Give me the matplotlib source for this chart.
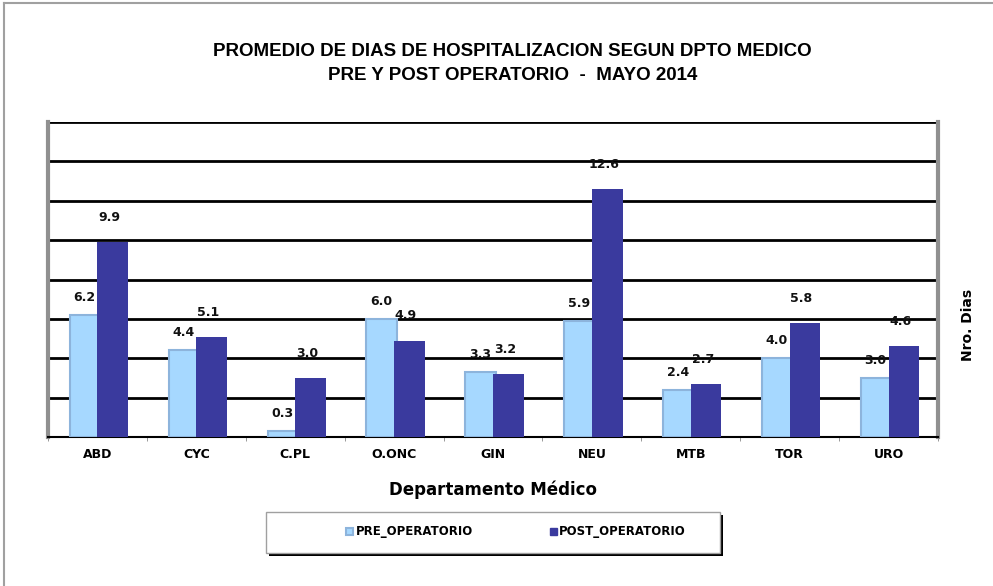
import matplotlib
matplotlib.use("Agg")
import matplotlib.pyplot as plt
import numpy as np
from matplotlib.patches import Rectangle, Patch
from matplotlib.lines import Line2D

categories = ["ABD", "CYC", "C.PL", "O.ONC", "GIN", "NEU", "MTB", "TOR", "URO"]
pre_values = [6.2, 4.4, 0.3, 6.0, 3.3, 5.9, 2.4, 4.0, 3.0]
post_values = [9.9, 5.1, 3.0, 4.9, 3.2, 12.6, 2.7, 5.8, 4.6]
series_names = ["PRE_OPERATORIO", "POST_OPERATORIO"]

PRE_COLOR = "#A6D8FF"
PRE_EDGE = "#8DB4DC"
POST_COLOR = "#3A3A9E"

W, H = 993, 586
fig = plt.figure(figsize=(W / 100, H / 100), dpi=100)
ax = fig.add_axes([48 / W, 1 - 437 / H, (938 - 48) / W, (437 - 122) / H])

x = np.arange(len(categories))
bw = 0.31
ax.bar(x - 0.125, pre_values, width=bw, color=PRE_COLOR, edgecolor=PRE_EDGE,
       linewidth=1.5, zorder=3)
ax.bar(x + 0.155, post_values, width=bw, color=POST_COLOR, edgecolor=POST_COLOR,
       linewidth=0, zorder=4)

lab_font = dict(fontsize=9, fontweight="bold", family="DejaVu Sans", color="#111111")
for xi, v in zip(x, pre_values):
    ax.annotate(f"{v:.1f}", (xi - 0.13, v), xytext=(0, 8), textcoords="offset points",
                ha="center", va="bottom", zorder=6, **lab_font)
for xi, v in zip(x, post_values):
    ax.annotate(f"{v:.1f}", (xi + 0.12, v), xytext=(0, 13), textcoords="offset points",
                ha="center", va="bottom", zorder=6, **lab_font)

ax.set_xlim(-0.5, len(categories) - 0.5)
ax.set_ylim(0, 16)
ax.set_yticks(np.arange(0, 17, 2))
ax.yaxis.grid(True, color="black", linewidth=2, zorder=1)
ax.set_axisbelow(True)
ax.tick_params(axis="y", left=False, labelleft=False)
ax.set_xticks(x)
ax.set_xticklabels(categories, fontsize=9, fontweight="bold", family="DejaVu Sans")
ax.tick_params(axis="x", length=0, pad=8)
ax.set_xticks(np.arange(-0.5, len(categories), 1), minor=True)
ax.tick_params(axis="x", which="minor", length=3, color="#888888")
ax.spines["top"].set_visible(False)
ax.spines["left"].set_color("#909090")
ax.spines["left"].set_linewidth(3)
ax.spines["right"].set_color("#909090")
ax.spines["right"].set_linewidth(3)
ax.spines["bottom"].set_color("black")
ax.spines["bottom"].set_linewidth(1.5)

ax.set_xlabel("Departamento Médico", fontsize=12, fontweight="bold",
              family="DejaVu Sans", labelpad=14)
fig.text(968 / W, 1 - 325 / H, "Nro. Dias", rotation=90, ha="center", va="center",
         fontsize=10, fontweight="bold", family="DejaVu Sans")

fig.text(0.516, 1 - 52 / H, "PROMEDIO DE DIAS DE HOSPITALIZACION SEGUN DPTO MEDICO",
         ha="center", va="center", fontsize=13.5, fontweight="bold",
         family=["Liberation Sans Narrow", "Liberation Sans"])
fig.text(0.516, 1 - 75 / H, "PRE Y POST OPERATORIO  -  MAYO 2014",
         ha="center", va="center", fontsize=13.5, fontweight="bold",
         family=["Liberation Sans Narrow", "Liberation Sans"])

# legend box with shadow
fig.patches.append(Rectangle((269 / W, 1 - 556 / H), 454 / W, 41 / H,
                             transform=fig.transFigure, facecolor="black",
                             edgecolor="none", zorder=0))
fig.patches.append(Rectangle((266 / W, 1 - 553 / H), 454 / W, 41 / H,
                             transform=fig.transFigure, facecolor="white",
                             edgecolor="#A0A0A0", linewidth=1, zorder=1))
handles = [Patch(facecolor=PRE_COLOR, edgecolor=PRE_EDGE, linewidth=1.5),
           Patch(facecolor=POST_COLOR, edgecolor=POST_COLOR)]
leg = fig.legend(handles, series_names, loc="center", bbox_to_anchor=(516 / W, 1 - 532 / H),
                 ncol=2, frameon=False, handlelength=0.6, handleheight=0.6,
                 handletextpad=0.2, columnspacing=6.5,
                 prop=dict(size=8.5, weight="bold", family="DejaVu Sans"))
leg.set_zorder(5)

# figure border (left and top)
fig.lines.append(Line2D([4 / W, 4 / W], [0, 1 - 3 / H], transform=fig.transFigure,
                        color="#A0A0A0", linewidth=1.5))
fig.lines.append(Line2D([4 / W, 1], [1 - 3 / H, 1 - 3 / H], transform=fig.transFigure,
                        color="#A0A0A0", linewidth=1.5))

fig.savefig("out.png", dpi=100)
